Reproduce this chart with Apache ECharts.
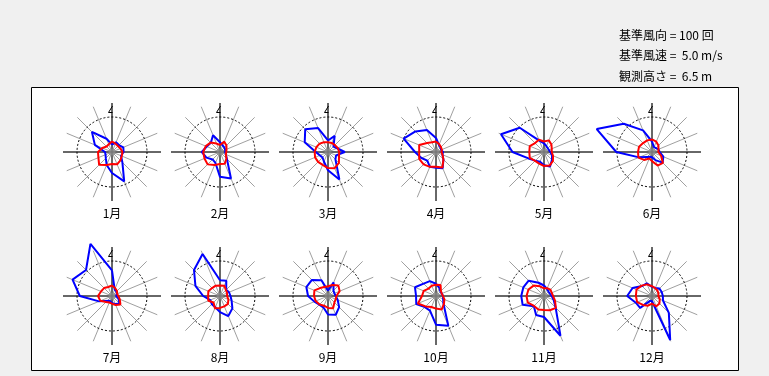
<!DOCTYPE html>
<html><head><meta charset="utf-8">
<script src="https://cdn.jsdelivr.net/npm/echarts@6/dist/echarts.min.js"></script>
<style>html,body{margin:0;padding:0;background:#f0f0f0}#c{width:769px;height:376px}</style>
</head><body><div id="c"></div>
<script>
// 16 directions, N then clockwise
const directions = ['N','NNE','NE','ENE','E','ESE','SE','SSE','S','SSW','SW','WSW','W','WNW','NW','NNW'];
const monthLabels = ['1月','2月','3月','4月','5月','6月','7月','8月','9月','10月','11月','12月'];
const infoLines = ['基準風向 = 100 回','基準風速 =  5.0 m/s','観測高さ =  6.5 m'];
const freqRingValue = 100;   // counts at reference circle
const speedRingValue = 5.0;  // m/s at reference circle

// wind-direction frequency (counts)
const freq1  = [21, 30, 28, 35, 33, 28, 42, 91, 60, 40, 25, 20, 20, 53, 81, 41];
const freq2  = [28, 20, 18, 16, 15, 18, 28, 82, 71, 34, 30, 42, 52, 41, 37, 52];
const freq3  = [33, 50, 22, 28, 48, 25, 30, 85, 52, 30, 22, 25, 35, 72, 92, 74];
const freq4  = [40, 22, 18, 16, 20, 20, 30, 50, 45, 46, 35, 45, 60, 100, 83, 68];
const freq5  = [25, 18, 15, 15, 18, 25, 32, 45, 38, 30, 35, 48, 90, 133, 98, 35];
const freq6  = [30, 15, 15, 20, 22, 35, 43, 25, 15, 15, 20, 40, 102, 171, 114, 67];
const freq7  = [73, 20, 18, 15, 12, 20, 30, 25, 20, 15, 15, 40, 92, 122, 105, 161];
const freq8  = [45, 47, 25, 28, 30, 36, 50, 62, 46, 35, 33, 30, 48, 76, 105, 130];
const freq9  = [15, 42, 22, 20, 22, 30, 45, 58, 53, 35, 35, 42, 57, 67, 65, 49];
const freq10 = [35, 25, 18, 18, 20, 22, 30, 92, 82, 45, 45, 61, 57, 65, 50, 46];
const freq11 = [30, 22, 18, 18, 22, 30, 47, 123, 60, 59, 41, 66, 65, 64, 62, 41];
const freq12 = [26, 25, 30, 30, 31, 34, 68, 136, 15, 15, 48, 50, 71, 60, 40, 39];

// mean wind speed (m/s)
const speed1  = [1.5, 1.3, 1.2, 1.3, 1.5, 1.5, 1.7, 1.9, 1.7, 2.0, 2.6, 2.1, 2.0, 1.5, 1.1, 1.2];
const speed2  = [1.0, 1.6, 1.3, 1.0, 0.9, 0.9, 1.3, 1.8, 1.7, 2.0, 2.5, 2.4, 2.4, 2.2, 1.9, 1.3];
const speed3  = [1.4, 1.4, 1.4, 1.5, 1.6, 1.7, 2.2, 2.5, 2.3, 2.0, 2.0, 2.0, 1.9, 1.8, 1.7, 1.5];
const speed4  = [1.5, 1.2, 1.0, 0.9, 0.8, 1.0, 1.5, 2.4, 2.1, 2.3, 2.5, 2.6, 2.4, 2.6, 1.8, 1.5];
const speed5  = [1.5, 1.8, 1.5, 1.2, 1.1, 1.4, 1.8, 2.1, 2.0, 1.8, 1.8, 2.2, 2.1, 2.2, 1.8, 1.9];
const speed6  = [1.8, 1.6, 1.3, 1.0, 0.9, 1.4, 2.2, 2.1, 1.3, 1.0, 1.6, 2.1, 2.0, 2.0, 1.8, 1.8];
const speed7  = [1.5, 1.2, 1.0, 0.8, 0.9, 1.2, 1.7, 1.4, 1.1, 1.0, 1.2, 1.8, 2.0, 1.7, 1.6, 1.4];
const speed8  = [1.5, 1.6, 1.2, 1.1, 1.0, 1.3, 1.6, 1.6, 1.7, 1.9, 1.3, 1.8, 1.7, 1.8, 1.6, 1.6];
const speed9  = [1.4, 1.7, 2.1, 1.8, 1.2, 1.2, 1.3, 1.9, 1.7, 1.5, 1.7, 1.9, 2.0, 2.1, 1.6, 1.4];
const speed10 = [1.6, 1.7, 1.0, 0.9, 1.0, 1.3, 1.6, 2.1, 1.8, 1.7, 2.1, 2.8, 2.0, 1.9, 1.5, 1.6];
const speed11 = [1.1, 1.2, 1.3, 1.2, 1.3, 1.7, 2.4, 2.2, 2.0, 2.1, 2.0, 2.5, 2.5, 2.4, 2.1, 1.5];
const speed12 = [1.4, 1.2, 1.1, 1.0, 0.9, 1.2, 1.5, 1.6, 1.1, 1.5, 1.8, 2.3, 2.3, 2.4, 2.1, 1.8];

const freqByMonth = [freq1,freq2,freq3,freq4,freq5,freq6,freq7,freq8,freq9,freq10,freq11,freq12];
const speedByMonth = [speed1,speed2,speed3,speed4,speed5,speed6,speed7,speed8,speed9,speed10,speed11,speed12];

const chart = echarts.init(document.getElementById('c'), null, {renderer: 'canvas'});
const R_OUT = 49, R_RING = 35, R_BIG = 70;
const step = 360 / directions.length;
const polar = [], angleAxis = [], radiusAxis = [], series = [], graphic = [];
const FONT = '"Noto Sans CJK JP", sans-serif';
const hidden = {axisLine:{show:false}, axisTick:{show:false}, axisLabel:{show:false}, splitLine:{show:false}};

function closed(values){
  const pts = values.map((v, j) => [v, j * step]);
  pts.push([values[0], 0]);
  return pts;
}

graphic.push({type:'rect', shape:{x:31.5, y:87.5, width:707, height:283}, style:{fill:'#ffffff', stroke:'#000', lineWidth:1}, z:-100});
infoLines.forEach((t, k) => {
  graphic.push({type:'text', x:619, y:35 + k*20.5, style:{text:t, fill:'#000', font:'12px ' + FONT, textVerticalAlign:'middle'}});
});

let p = 0;
function addPolar(cx, cy, r, ang, rad){
  polar.push({center:[cx, cy], radius:r});
  angleAxis.push(Object.assign({}, hidden, {polarIndex:p, type:'value', min:0, max:360, startAngle:90, clockwise:true}, ang));
  radiusAxis.push(Object.assign({}, hidden, {polarIndex:p, type:'value', min:0}, rad));
  return p++;
}

for (let i = 0; i < 12; i++) {
  const col = i % 6, row = Math.floor(i / 6);
  const cx = 112 + 108 * col, cy = 152 + 144 * row;
  // 16 grey spokes
  const pSpokes = addPolar(cx, cy, R_OUT, {interval:step, splitLine:{show:true, lineStyle:{color:'#a0a0a0', width:1}}}, {max:1});
  // black cross
  addPolar(cx, cy, R_OUT, {interval:90, splitLine:{show:true, lineStyle:{color:'#000000', width:1}}}, {max:1});
  // reference ring
  addPolar(cx, cy, R_RING, {axisLine:{show:true, lineStyle:{color:'#000', width:1, type:[2,2]}}}, {max:1});
  // frequency scale (ring = freqRingValue)
  const pFreq = addPolar(cx, cy, R_BIG, {}, {max:freqRingValue * R_BIG / R_RING});
  // speed scale (ring = speedRingValue)
  const pSpeed = addPolar(cx, cy, R_BIG, {}, {max:speedRingValue * R_BIG / R_RING});

  series.push({type:'scatter', coordinateSystem:'polar', polarIndex:pSpokes, data:[[0,0]], symbolSize:7,
    itemStyle:{color:'#8c8c8c'}, silent:true, z:3});
  series.push({type:'line', coordinateSystem:'polar', polarIndex:pFreq, data:closed(freqByMonth[i]), showSymbol:false,
    clip:false, lineStyle:{color:'#0000ff', width:2}, silent:true, z:4});
  series.push({type:'line', coordinateSystem:'polar', polarIndex:pSpeed, data:closed(speedByMonth[i]), showSymbol:false,
    clip:false, lineStyle:{color:'#ff0000', width:2}, silent:true, z:5});

  graphic.push({type:'polyline', shape:{points:[[cx+0.5, cy-46], [cx-3.5, cy-39.5], [cx+0.5, cy-39.5]]},
    style:{stroke:'#000', lineWidth:1, fill:null}, z:10});
  graphic.push({type:'text', x:cx, y:cy + 61, style:{text:monthLabels[i], fill:'#000', font:'12px ' + FONT,
    textAlign:'center', textVerticalAlign:'middle'}});
}

chart.setOption({
  backgroundColor:'#f0f0f0',
  animation:false,
  polar, angleAxis, radiusAxis, series, graphic
});
</script>
</body></html>
